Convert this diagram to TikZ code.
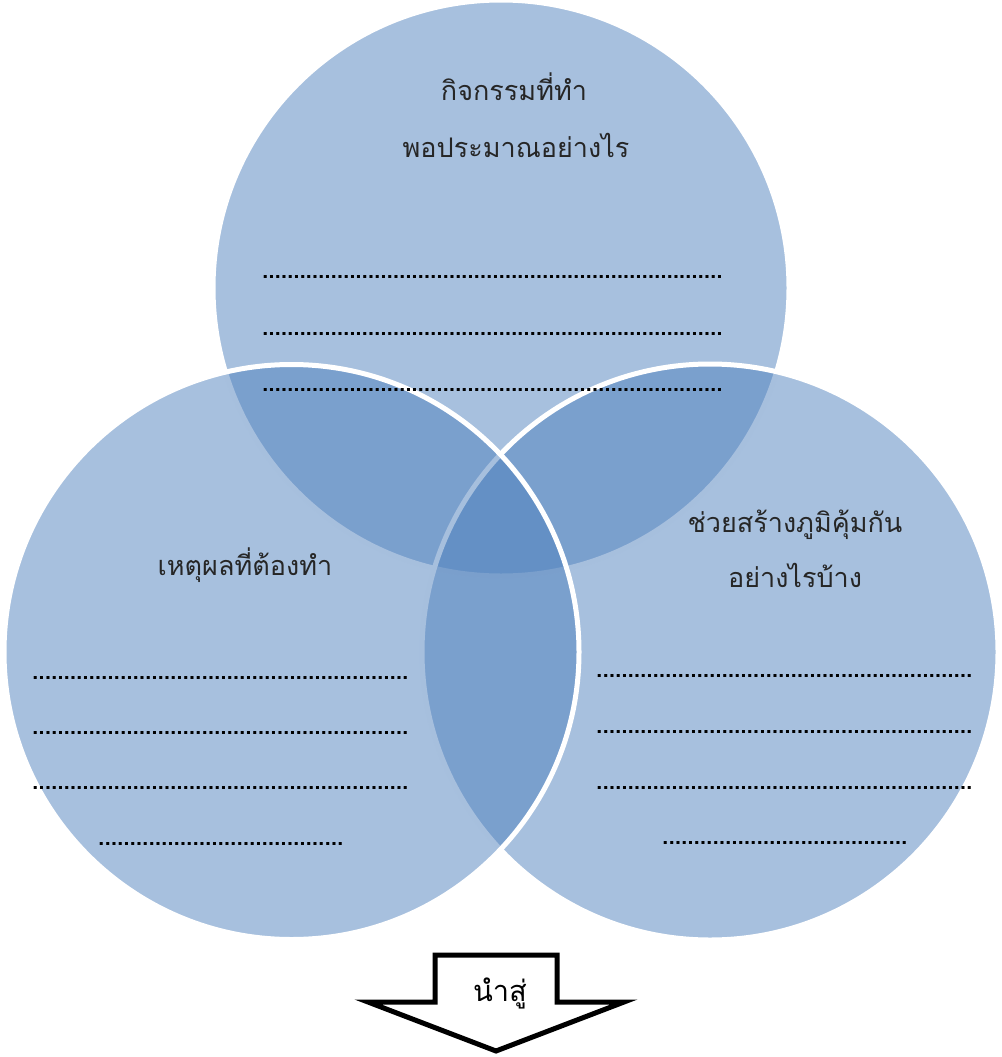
\documentclass[tikz,border=0pt]{standalone}
\usepackage{fontspec}
\newfontfamily\thai[Script=Thai]{Loma}
\definecolor{vennblue}{HTML}{4F81BD}
\newcommand{\dotrow}[1]{\hbox to #1{\xleaders\hbox to 6.2pt{\hss.\hss}\hfill}}
\begin{document}
\begin{tikzpicture}[x=1pt,y=-1pt,
  venn/.style={fill=vennblue,fill opacity=0.5,draw=white,draw opacity=1,line width=5pt},
  label/.style={font=\thai\fontsize{27}{32}\selectfont,anchor=base,inner sep=0pt,text=black!85},
  dots/.style={font=\thai\fontsize{30}{34}\selectfont,anchor=base west,inner sep=0pt,text=black}]
\useasboundingbox (0,0) rectangle (1001,1057);
% circles: order top, right, left
\path[venn] (501,288) circle[radius=288];
\path[venn] (710,652) circle[radius=288];
\path[venn] (291.5,652) circle[radius=287.5];
% top circle texts
\node[label] (t1) at (514,100) {กิจกรรมที่ทำ};
\node[label] (t2) at (516,157) {พอประมาณอย่างไร};
\node[dots] (td1) at (262,278) {\dotrow{460pt}};
\node[dots] (td2) at (262,335) {\dotrow{460pt}};
\node[dots] (td3) at (262,391) {\dotrow{460pt}};
% left circle texts
\node[label] (l1) at (245,575) {เหตุผลที่ต้องทำ};
\node[dots] (ld1) at (32,679) {\dotrow{376pt}};
\node[dots] (ld2) at (32,734) {\dotrow{376pt}};
\node[dots] (ld3) at (32,789) {\dotrow{376pt}};
\node[dots] (ld4) at (98,845) {\dotrow{245pt}};
% right circle texts
\node[label] (r1) at (795,532) {ช่วยสร้างภูมิคุ้มกัน};
\node[label] (r2) at (795,587) {อย่างไรบ้าง};
\node[dots] (rd1) at (596,677) {\dotrow{376pt}};
\node[dots] (rd2) at (596,733) {\dotrow{376pt}};
\node[dots] (rd3) at (596,789) {\dotrow{376pt}};
\node[dots] (rd4) at (662,844) {\dotrow{245pt}};
% arrow
\draw[black,line width=5pt,fill=white,line join=miter]
  (435,955) -- (557,955) -- (557,1002) -- (624,1002) -- (496,1051) -- (368,1002) -- (435,1002) -- cycle;
\node[font=\thai\fontsize{29}{32}\selectfont,anchor=base,inner sep=0pt] (arr) at (500,1001) {นำสู่};
\end{tikzpicture}
\end{document}
